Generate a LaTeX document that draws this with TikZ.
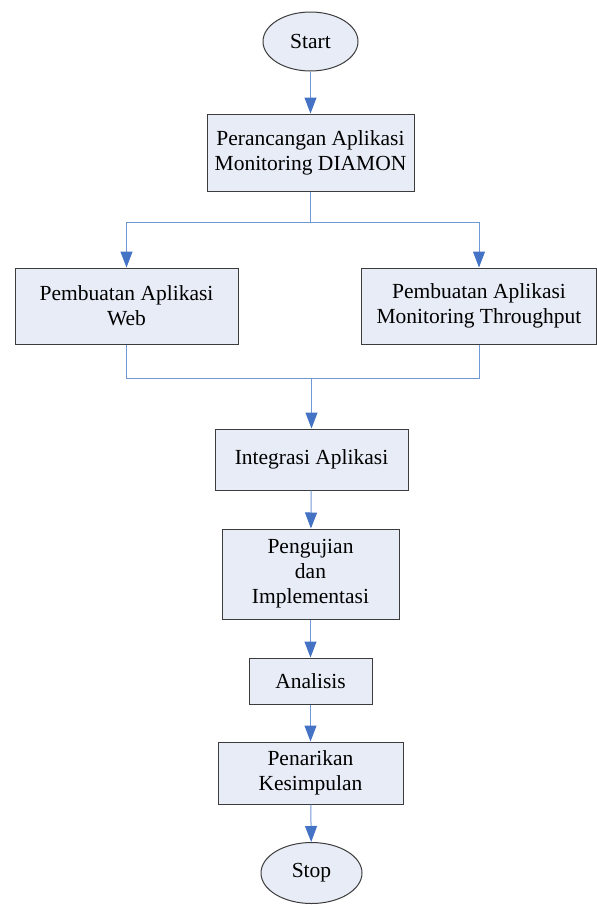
\documentclass[tikz,border=0pt]{standalone}
\usepackage{fontspec}
\setmainfont{Liberation Serif}
\usetikzlibrary{arrows.meta,shapes.geometric}
\definecolor{boxfill}{HTML}{E7ECF6}
\definecolor{flowline}{HTML}{7098D6}
\definecolor{flowtip}{HTML}{4472C4}
\definecolor{boxedge}{HTML}{3C3C3C}
\begin{document}
\begin{tikzpicture}[x=1pt,y=-1pt,
    proc/.style={draw=boxedge,fill=boxfill,line width=1pt,rectangle,align=center,
      inner sep=0pt,font=\fontsize{21.5}{25}\selectfont},
    term/.style={draw=boxedge,fill=boxfill,line width=1pt,ellipse,inner sep=0pt,
      font=\fontsize{21.5}{25}\selectfont},
    flow/.style={draw=flowline,line width=1pt},
    go/.style={flow,-{Triangle[length=16pt,width=12pt,color=flowtip]}}]
  \useasboundingbox (0,0) rectangle (597,905);

  \node[term,minimum width=95pt,minimum height=59pt] (start) at (310.5,41.5) {Start};
  \node[proc,minimum width=207pt,minimum height=77pt] (plan) at (310.5,152.5) {Perancangan Aplikasi\\Monitoring DIAMON};
  \node[proc,minimum width=223pt,minimum height=76pt] (web) at (126.5,306) {Pembuatan Aplikasi\\Web};
  \node[proc,minimum width=235pt,minimum height=76pt] (thru) at (479,306) {Pembuatan Aplikasi\\Monitoring Throughput};
  \node[proc,minimum width=193pt,minimum height=61pt] (integ) at (311.5,459.5) {Integrasi Aplikasi};
  \node[proc,minimum width=177pt,minimum height=90pt] (uji) at (310.5,574) {Pengujian\\dan\\Implementasi};
  \node[proc,minimum width=123pt,minimum height=46pt] (anal) at (310.5,681) {Analisis};
  \node[proc,minimum width=185pt,minimum height=62pt] (tarik) at (310.5,773) {Penarikan\\Kesimpulan};
  \node[term,minimum width=101pt,minimum height=61pt] (stop) at (311.5,873) {Stop};

  \coordinate (split) at (310.5,222);
  \coordinate (join) at (311.5,378);

  \draw[go] (start) -- (plan);
  \draw[flow] (plan) -- (split);
  \draw[go] (split) -| (web);
  \draw[go] (split) -| (thru);
  \draw[flow] (web) |- (join);
  \draw[flow] (thru) |- (join);
  \draw[go] (join) -- (integ);
  \draw[go] (integ) -- (uji);
  \draw[go] (uji) -- (anal);
  \draw[go] (anal) -- (tarik);
  \draw[go] (tarik) -- (stop);
\end{tikzpicture}
\end{document}
